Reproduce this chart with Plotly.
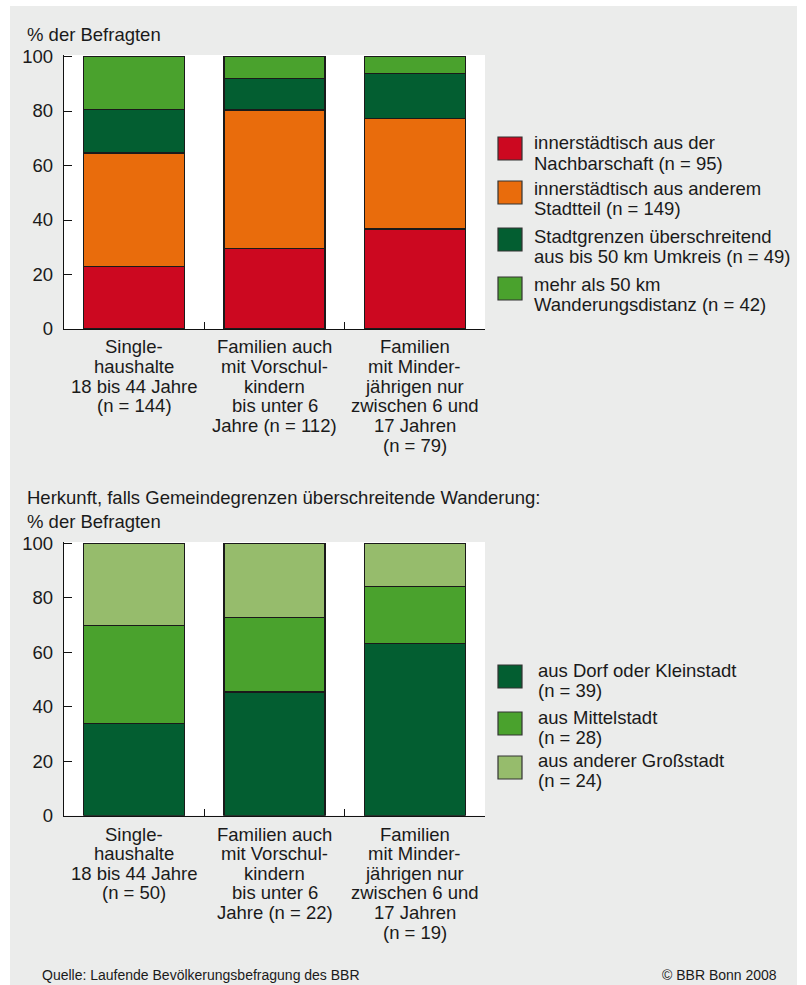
import plotly.graph_objects as go

# ---------------- data ----------------
categories_top = [
    "Single-<br>haushalte<br>18 bis 44 Jahre<br>(n = 144)",
    "Familien auch<br>mit Vorschul-<br>kindern<br>bis unter 6<br>Jahre (n = 112)",
    "Familien<br>mit Minder-<br>jährigen nur<br>zwischen 6 und<br>17 Jahren<br>(n = 79)",
]
series_top_names = [
    "innerstädtisch aus der<br>Nachbarschaft (n = 95)",
    "innerstädtisch aus anderem<br>Stadtteil (n = 149)",
    "Stadtgrenzen überschreitend<br>aus bis 50 km Umkreis (n = 49)",
    "mehr als 50 km<br>Wanderungsdistanz (n = 42)",
]
nachbarschaft = [22.9, 29.5, 36.7]
anderer_stadtteil = [41.7, 50.9, 40.5]
bis_50km = [16.0, 11.6, 16.5]
ueber_50km = [19.4, 8.0, 6.3]

categories_bottom = [
    "Single-<br>haushalte<br>18 bis 44 Jahre<br>(n = 50)",
    "Familien auch<br>mit Vorschul-<br>kindern<br>bis unter 6<br>Jahre (n = 22)",
    "Familien<br>mit Minder-<br>jährigen nur<br>zwischen 6 und<br>17 Jahren<br>(n = 19)",
]
series_bottom_names = [
    "aus Dorf oder Kleinstadt<br>(n = 39)",
    "aus Mittelstadt<br>(n = 28)",
    "aus anderer Großstadt<br>(n = 24)",
]
dorf_kleinstadt = [34.0, 45.5, 63.2]
mittelstadt = [36.0, 27.3, 21.0]
grossstadt = [30.0, 27.2, 15.8]

y_ticks = [0, 20, 40, 60, 80, 100]

title_top = "% der Befragten"
title_bottom_1 = "Herkunft, falls Gemeindegrenzen überschreitende Wanderung:"
title_bottom_2 = "% der Befragten"
source_text = "Quelle: Laufende Bevölkerungsbefragung des BBR"
copyright_text = "© BBR Bonn 2008"

# ---------------- style ----------------
W, H = 806, 985
FONT = "Liberation Sans, Arial, Helvetica, sans-serif"
TXT = "#1a1a1a"
BG = "#ebeceb"
FS = 18.5
colors_top = ["#cc0820", "#e96c0c", "#035e31", "#4aa22d"]
colors_bottom = ["#035e31", "#4aa22d", "#96bc6c"]


def px_x(x):
    return x / W


def px_y(y):
    return 1 - y / H


fig = go.Figure()

top_values = [nachbarschaft, anderer_stadtteil, bis_50km, ueber_50km]
for name, vals, col in zip(series_top_names, top_values, colors_top):
    fig.add_trace(go.Bar(
        x=categories_top, y=vals, name=name, marker_color=col,
        marker_line_color="#1a1a1a", marker_line_width=1.3,
        width=0.72, showlegend=False, xaxis="x", yaxis="y",
    ))

bottom_values = [dorf_kleinstadt, mittelstadt, grossstadt]
for name, vals, col in zip(series_bottom_names, bottom_values, colors_bottom):
    fig.add_trace(go.Bar(
        x=categories_bottom, y=vals, name=name, marker_color=col,
        marker_line_color="#1a1a1a", marker_line_width=1.3,
        width=0.72, showlegend=False, xaxis="x2", yaxis="y2",
    ))

x_dom = [px_x(64), px_x(485)]
top_dom = [px_y(329), px_y(55)]
bot_dom = [px_y(815.7), px_y(542)]

xaxis_common = dict(
    type="category", range=[-0.5, 2.5], domain=x_dom,
    tickson="boundaries", ticks="inside", ticklen=7, tickwidth=1.2,
    tickcolor="#111", showticklabels=False, showline=True,
    linecolor="#111", linewidth=1.3, showgrid=False, zeroline=False,
    fixedrange=True,
)
yaxis_common = dict(
    range=[0, 100.55], tickvals=y_ticks, ticks="inside", ticklen=8,
    tickwidth=1.2, tickcolor="#111", showline=True, linecolor="#111",
    linewidth=1.3, showgrid=False, zeroline=False,
    tickfont=dict(family=FONT, size=FS, color=TXT), ticklabelstandoff=6,
)

fig.update_layout(
    width=W, height=H,
    margin=dict(l=0, r=0, t=0, b=0, autoexpand=False),
    paper_bgcolor=BG, plot_bgcolor="white",
    barmode="stack", bargap=0.28,
    font=dict(family=FONT, size=FS, color=TXT),
    xaxis=dict(xaxis_common, anchor="y"),
    yaxis=dict(yaxis_common, domain=top_dom, anchor="x"),
    xaxis2=dict(xaxis_common, anchor="y2"),
    yaxis2=dict(yaxis_common, domain=bot_dom, anchor="x2"),
    showlegend=False,
)

shapes = [
    # white outer strips around the grey panel
    dict(type="rect", xref="paper", yref="paper", x0=0, x1=px_x(10), y0=0, y1=1,
         fillcolor="white", line_width=0, layer="below"),
    dict(type="rect", xref="paper", yref="paper", x0=px_x(797), x1=1, y0=0, y1=1,
         fillcolor="white", line_width=0, layer="below"),
    dict(type="rect", xref="paper", yref="paper", x0=0, x1=1, y0=px_y(6), y1=1,
         fillcolor="white", line_width=0, layer="below"),
]
annotations = []


def add_text(text, x, y, size=FS, xanchor="left", xref="paper"):
    annotations.append(dict(
        text=text, x=x, y=px_y(y), xref=xref, yref="paper",
        xanchor=xanchor, yanchor="middle", showarrow=False,
        font=dict(family=FONT, size=size, color=TXT),
    ))


# titles
add_text(title_top, px_x(25), 34)
add_text(title_bottom_1, px_x(25), 497)
add_text(title_bottom_2, px_x(25), 521)

# category labels, one annotation per line for tight leading
LINE = 19.6
for cats, xref, y0 in [(categories_top, "x", 347), (categories_bottom, "x2", 834)]:
    for c in cats:
        for j, line in enumerate(c.split("<br>")):
            add_text(line, c, y0 + j * LINE, xanchor="center", xref=xref)

# legends (swatch + two text lines)
legend_top_pos = [(137, 143), (181, 188), (228, 236), (277, 284)]
for name, col, (sy, ty) in zip(series_top_names, colors_top, legend_top_pos):
    shapes.append(dict(type="rect", xref="paper", yref="paper",
                       x0=px_x(498), x1=px_x(522), y0=px_y(sy + 23), y1=px_y(sy),
                       fillcolor=col, line=dict(color="#333", width=1.2)))
    for j, line in enumerate(name.split("<br>")):
        add_text(line, px_x(532), ty + j * 20.5)

legend_bot_pos = [(665, 670), (712, 717), (756, 760)]
for name, col, (sy, ty) in zip(series_bottom_names, colors_bottom, legend_bot_pos):
    shapes.append(dict(type="rect", xref="paper", yref="paper",
                       x0=px_x(498), x1=px_x(522), y0=px_y(sy + 23), y1=px_y(sy),
                       fillcolor=col, line=dict(color="#333", width=1.2)))
    for j, line in enumerate(name.split("<br>")):
        add_text(line, px_x(536), ty + j * 20.5)

# footer
add_text(source_text, px_x(40), 975, size=14)
add_text(copyright_text, px_x(779), 975, size=14, xanchor="right")

fig.update_layout(shapes=shapes, annotations=annotations)
fig.write_html(
    "out.html",
    config={"displayModeBar": False},
    post_script="document.body.style.margin='0';document.body.style.overflow='hidden';",
)
